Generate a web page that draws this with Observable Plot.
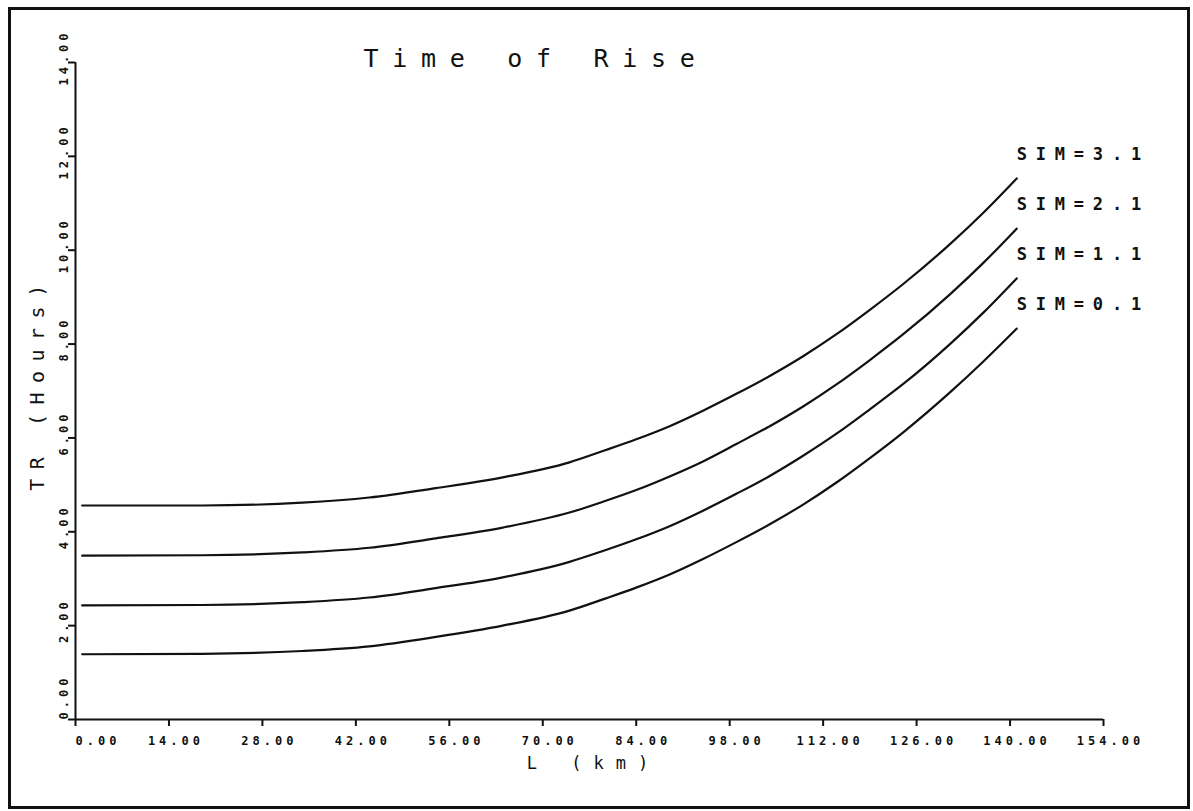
<!DOCTYPE html>
<html>
<head>
<meta charset="utf-8">
<script src="https://cdn.jsdelivr.net/npm/d3@7"></script>
<script src="https://cdn.jsdelivr.net/npm/@observablehq/plot@0.6"></script>
<style>
  html, body { margin: 0; padding: 0; background: #fff; }
  #chart svg { display: block; }
  g[aria-description="title"] text { letter-spacing: 13.7px; }
  g[aria-description="tick labels"] text { letter-spacing: 4px; }
  g[aria-description="series labels"] text { letter-spacing: 8.8px; }
  g[aria-description="x title"] text { letter-spacing: 12px; }
  g[aria-description="y title"] text { letter-spacing: 9.5px; }
</style>
</head>
<body>
<div id="chart"></div>
<script>
// Axis ticks
const xTicks = [0, 14, 28, 42, 56, 70, 84, 98, 112, 126, 140, 154];
const yTicks = [0, 2, 4, 6, 8, 10, 12, 14];

// Stream length L (km) at which each curve is sampled
const lengthKm = [1, 19, 34, 44, 54, 64, 74, 79, 84, 89, 94, 99, 104, 109, 114, 119, 124, 131, 136, 141];

// Time of rise TR (hours) for each SIM value
const sim31 = [4.56, 4.56, 4.62, 4.73, 4.93, 5.16, 5.48, 5.72, 5.97, 6.25, 6.58, 6.94, 7.32, 7.74, 8.21, 8.73, 9.28, 10.13, 10.80, 11.53];
const sim21 = [3.49, 3.50, 3.56, 3.66, 3.86, 4.09, 4.41, 4.64, 4.89, 5.18, 5.50, 5.87, 6.25, 6.67, 7.14, 7.66, 8.21, 9.06, 9.73, 10.46];
const sim11 = [2.43, 2.44, 2.50, 2.60, 2.80, 3.03, 3.36, 3.59, 3.84, 4.12, 4.45, 4.81, 5.19, 5.62, 6.09, 6.61, 7.15, 8.00, 8.67, 9.40];
const sim01 = [1.39, 1.40, 1.46, 1.56, 1.76, 2.00, 2.32, 2.56, 2.81, 3.09, 3.42, 3.78, 4.16, 4.58, 5.05, 5.57, 6.12, 6.97, 7.63, 8.33];

const seriesNames = ["SIM=3.1", "SIM=2.1", "SIM=1.1", "SIM=0.1"];
const seriesValues = [sim31, sim21, sim11, sim01];

const rows = seriesNames.flatMap((name, s) =>
  lengthKm.map((L, i) => ({sim: name, L, tr: seriesValues[s][i]}))
);

const ink = "#111";
const mono = "'DejaVu Sans Mono', 'Liberation Mono', monospace";
const fmt = d => d.toFixed(2);
const tickFont = {fontSize: 12, fontWeight: "bold", fontFamily: mono, fill: ink};

const chart = Plot.plot({
  width: 1193,
  height: 811,
  marginLeft: 75,
  marginRight: 90,
  marginTop: 62,
  marginBottom: 92,
  style: {background: "#fff", color: ink, fontFamily: mono, overflow: "visible"},
  x: {domain: [0, 154], axis: null},
  y: {domain: [0, 14], axis: null},
  marks: [
    // page border
    Plot.frame({stroke: ink, strokeWidth: 3, insetLeft: -66, insetTop: -54, insetRight: -85, insetBottom: -88}),

    // axis lines
    Plot.ruleX([0], {y1: 0, y2: 14, stroke: ink, strokeWidth: 2}),
    Plot.ruleY([0], {x1: 0, x2: 154, stroke: ink, strokeWidth: 2}),

    // x axis ticks, then labels (0.00 is left-aligned on its tick)
    Plot.axisX({ticks: xTicks, tickSize: 7, strokeWidth: 2, tickFormat: () => null, label: null}),
    Plot.axisX({
      ticks: xTicks, tickSize: 0, tickPadding: 17, dx: 7, label: null,
      tickFormat: d => (d === 0 ? null : fmt(d)),
      ...tickFont, ariaDescription: "tick labels"
    }),
    Plot.text([0], {
      x: d => d, frameAnchor: "bottom", text: fmt,
      textAnchor: "start", lineAnchor: "top", dy: 17,
      ...tickFont, ariaDescription: "tick labels"
    }),

    // y axis ticks plus rotated labels
    Plot.axisY({ticks: yTicks, tickSize: 7, strokeWidth: 2, tickFormat: () => null, label: null}),
    Plot.text(yTicks.slice(1), {
      y: d => d, frameAnchor: "left", text: fmt, rotate: -90,
      textAnchor: "middle", lineAnchor: "bottom", dx: -8, dy: -5,
      ...tickFont, ariaDescription: "tick labels"
    }),
    Plot.text([0], {
      y: d => d, frameAnchor: "left", text: fmt, rotate: -90,
      textAnchor: "start", lineAnchor: "bottom", dx: -8,
      ...tickFont, ariaDescription: "tick labels"
    }),

    // curves
    Plot.line(rows, {x: "L", y: "tr", z: "sim", stroke: ink, strokeWidth: 2.2, curve: "monotone-x"}),

    // series labels at the end of each curve
    Plot.text(rows, Plot.selectLast({
      x: "L", y: "tr", z: "sim", text: "sim",
      textAnchor: "start", dy: -24,
      fontSize: 17, fontWeight: "bold", fontFamily: mono, fill: ink, ariaDescription: "series labels"
    })),

    // title
    Plot.text(["Time of Rise"], {
      frameAnchor: "top-left", textAnchor: "start", lineAnchor: "middle",
      dx: 288, dy: -4, fontSize: 25, fontFamily: mono, fill: ink, ariaDescription: "title"
    }),

    // axis titles
    Plot.text(["L (km)"], {
      frameAnchor: "bottom", lineAnchor: "middle", dx: 4, dy: 44,
      fontSize: 17, fontFamily: mono, fill: ink, ariaDescription: "x title"
    }),
    Plot.text(["TR (Hours)"], {
      frameAnchor: "left", rotate: -90, textAnchor: "middle", lineAnchor: "middle", dx: -38, dy: -8,
      fontSize: 20, fontFamily: mono, fill: ink, ariaDescription: "y title"
    })
  ]
});

document.getElementById("chart").append(chart);
</script>
</body>
</html>
